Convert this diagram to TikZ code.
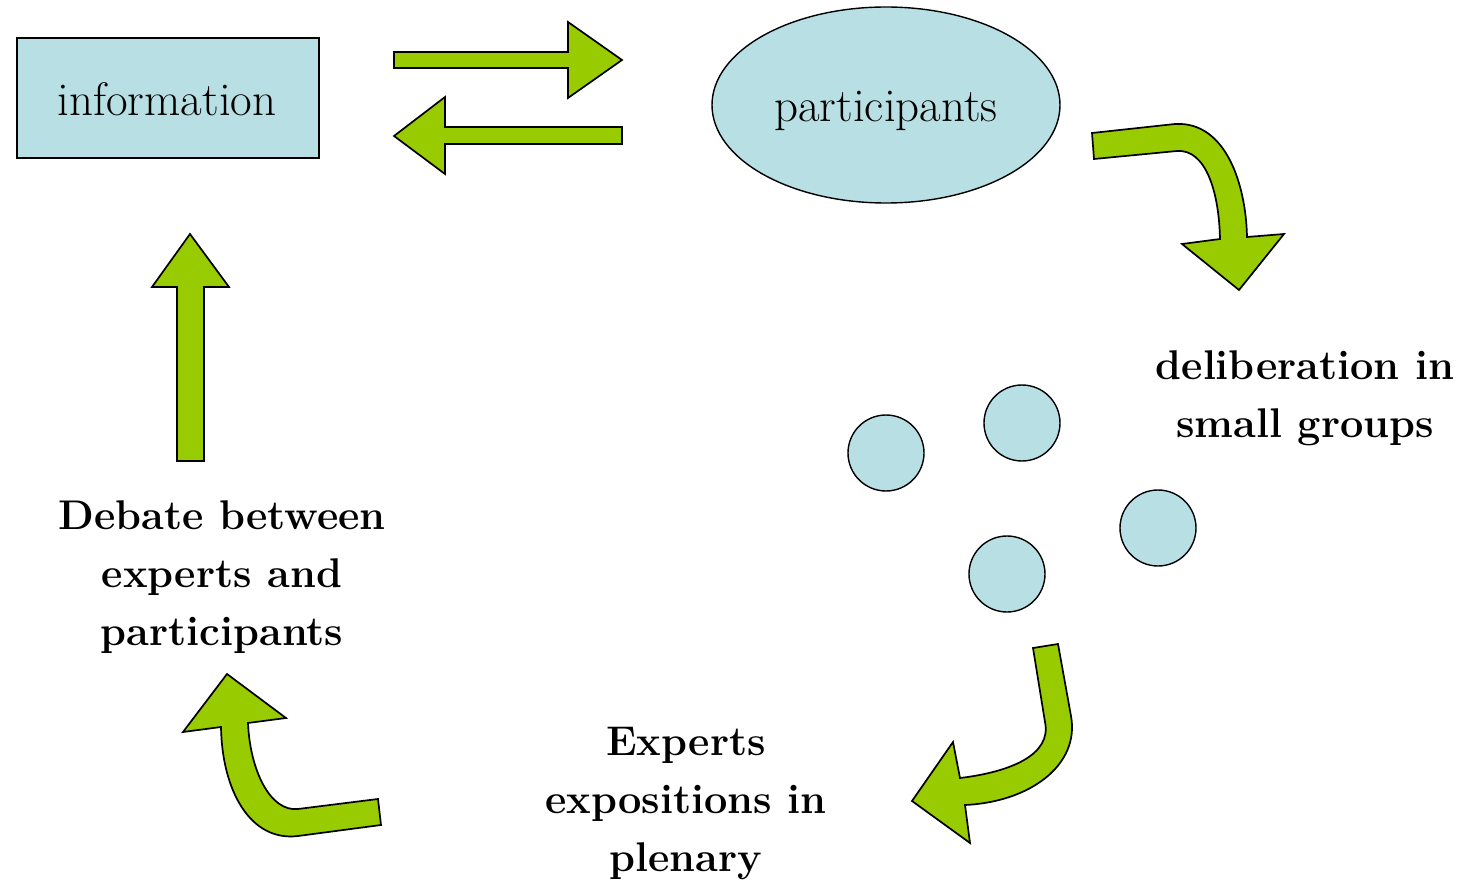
\documentclass[tikz,border=0pt]{standalone}
\usepackage{fontspec}
\usetikzlibrary{shapes.geometric}
\begin{document}
\begin{tikzpicture}[x=1pt,y=-1pt,
  arrowshape/.style={fill=arrowgreen,draw=black,line width=1.7pt,line join=miter},
  bluefill/.style={fill=paleblue,draw=black,line width=1.4pt},
  plain/.style={font=\fontsize{47}{58}\selectfont,align=center},
  boldlbl/.style={font=\fontsize{41.5}{58}\selectfont\bfseries,align=center}]
\definecolor{arrowgreen}{HTML}{99CC00}
\definecolor{paleblue}{HTML}{B8DFE3}
\useasboundingbox (0,0) rectangle (1476,885);
% nodes
\node[bluefill,minimum width=302pt,minimum height=120pt,inner sep=0pt] (info) at (168,98) {};
\node[plain] at (167,99) {information};
\node[bluefill,ellipse,minimum width=348pt,minimum height=196pt,inner sep=0pt] (part) at (886,105) {};
\node[plain] at (886,111) {participants};
\node[bluefill,circle,minimum size=76pt,inner sep=0pt] (g1) at (886,453) {};
\node[bluefill,circle,minimum size=76pt,inner sep=0pt] (g2) at (1022,423) {};
\node[bluefill,circle,minimum size=76pt,inner sep=0pt] (g3) at (1158,528) {};
\node[bluefill,circle,minimum size=76pt,inner sep=0pt] (g4) at (1007,574) {};
\node[boldlbl] (delib) at (1305,398) {deliberation in\\small groups};
\node[boldlbl] (debate) at (222,577) {Debate between\\experts and\\participants};
\node[boldlbl] (experts) at (686,804) {Experts\\expositions in\\plenary};
% straight arrows
\draw[arrowshape] (394,52) -- (568,52) -- (568,22) -- (622,60) -- (568,98) -- (568,68) -- (394,68) -- cycle;
\draw[arrowshape] (622,127) -- (445,127) -- (445,97) -- (394,136) -- (445,174) -- (445,144) -- (622,144) -- cycle;
\draw[arrowshape] (177,461) -- (177,287) -- (152,287) -- (190,234) -- (229,287) -- (204,287) -- (204,461) -- cycle;
% curved arrow top right
\draw[arrowshape] (1092,133) -- (1175,124)
  .. controls (1226,121) and (1246,185) .. (1247,237)
  -- (1284,234) -- (1239,290) -- (1182,244) -- (1220,239)
  .. controls (1219,190) and (1205,149) .. (1177,151)
  -- (1094,159) -- cycle;
% curved arrow bottom right
\draw[arrowshape] (1033,648) -- (1058,644) -- (1071,716)
  .. controls (1080,765) and (1030,802) .. (965,805)
  -- (970,843) -- (912,801) -- (953,742) -- (960,778)
  .. controls (1010,772) and (1052,755) .. (1045,722)
  -- cycle;
% curved arrow bottom left
\draw[arrowshape] (381,825) -- (298,836)
  .. controls (250,842) and (222,790) .. (221,727)
  -- (183,732) -- (227,674) -- (286,718) -- (248,723)
  .. controls (250,770) and (270,812) .. (298,809)
  -- (378,799) -- cycle;
\end{tikzpicture}
\end{document}
